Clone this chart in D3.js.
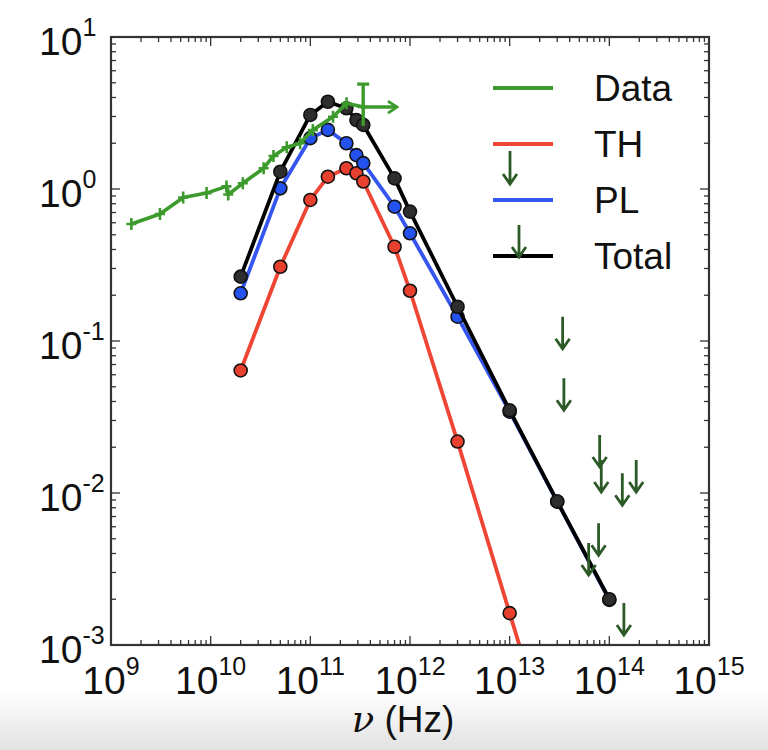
<!DOCTYPE html>
<html><head><meta charset="utf-8">
<script src="https://cdn.jsdelivr.net/npm/d3@7"></script>
<style>body{margin:0;background:#fff} svg{display:block}</style>
</head><body><svg id="c" width="768" height="750"></svg>
<script>
// ---- data ----
const freqModel   = [2e10, 5e10, 1e11, 1.5e11, 2.3e11, 2.9e11, 3.4e11, 7e11, 1e12, 3e12, 1e13, 3e13, 1e14];
const thValues    = [0.064, 0.308, 0.847, 1.205, 1.37, 1.27, 1.12, 0.417, 0.214, 0.0218, 0.00162, 1.5e-4, 1e-5];
const plValues    = [0.206, 1.01, 2.16, 2.45, 2.0, 1.67, 1.48, 0.765, 0.511, 0.1445, 0.0343, 0.00877, 0.00198];
const totalValues = [0.265, 1.30, 3.07, 3.75, 3.40, 2.84, 2.64, 1.175, 0.71, 0.168, 0.035, 0.0088, 0.002];
const dataFreq = [1.6e9, 3.1e9, 5.3e9, 9.1e9, 1.44e10, 1.5e10, 2.1e10, 3.4e10, 4.27e10, 5.8e10, 7.9e10, 1.06e11, 1.69e11, 2.31e11, 3.39e11];
const dataFlux = [0.589, 0.685, 0.88, 0.94, 1.04, 0.92, 1.09, 1.37, 1.65, 1.88, 2.0, 2.44, 2.99, 3.66, 3.46];
const lastErrLow = 2.6, lastErrHigh = 4.9, lastFreqLimit = 7.4e11;
const limitFreq = [3.4e13, 3.5e13, 8.0e13, 8.3e13, 1.35e14, 1.86e14, 7.8e13, 6.2e13, 1.4e14];
const limitFlux = [0.1445, 0.0569, 0.0241, 0.0165, 0.0135, 0.0165, 0.00632, 0.00469, 0.00189];
const xTickExp = [9, 10, 11, 12, 13, 14, 15];
const yTickExp = [1, 0, -1, -2, -3];
const legendLabels = ["Data", "TH", "PL", "Total"];

// ---- layout ----
const svg = d3.select("#c");
const L = 111, R = 709, T = 37, B = 645;
const x = d3.scaleLog().domain([1e9, 1e15]).range([L, R]);
const y = d3.scaleLog().domain([1e-3, 1e1]).range([B, T]);
const cGreen = "#3d9a2c", cArrow = "#2c5a27", cRed = "#ee4534", cBlue = "#3456ee";
const FONT = "'Liberation Sans', Arial, sans-serif";

// background gradient at bottom (photo artifact)
const defs = svg.append("defs");
const g1 = defs.append("linearGradient").attr("id", "bg").attr("x1", 0).attr("x2", 0).attr("y1", 0).attr("y2", 1);
g1.append("stop").attr("offset", 0).attr("stop-color", "#ffffff");
g1.append("stop").attr("offset", 1).attr("stop-color", "#e2e2e2");
svg.append("rect").attr("x", 0).attr("y", 690).attr("width", 768).attr("height", 60).attr("fill", "url(#bg)");

defs.append("clipPath").attr("id", "clip").append("rect")
  .attr("x", L).attr("y", T).attr("width", R - L).attr("height", B - T);

// ---- ticks (inside, all four sides) ----
const ticksG = svg.append("g").attr("stroke", "#333").attr("stroke-width", 1.3);
const isMajor = v => Math.abs(Math.log10(v) - Math.round(Math.log10(v))) < 1e-6;
x.ticks().forEach(v => {
  const len = isMajor(v) ? 9 : 5, px = x(v);
  ticksG.append("line").attr("x1", px).attr("x2", px).attr("y1", B).attr("y2", B - len);
  ticksG.append("line").attr("x1", px).attr("x2", px).attr("y1", T).attr("y2", T + len);
});
y.ticks().forEach(v => {
  const len = isMajor(v) ? 9 : 5, py = y(v);
  ticksG.append("line").attr("y1", py).attr("y2", py).attr("x1", L).attr("x2", L + len);
  ticksG.append("line").attr("y1", py).attr("y2", py).attr("x1", R).attr("x2", R - len);
});

// ---- tick labels ----
const labG = svg.append("g").attr("font-family", FONT).attr("fill", "#111");
xTickExp.forEach(e => {
  const t = labG.append("text").attr("x", x(Math.pow(10, e))).attr("y", 694)
    .attr("text-anchor", "middle").attr("font-size", 39);
  t.append("tspan").text("10");
  t.append("tspan").attr("font-size", 25).attr("dy", -19).text(String(e));
});
yTickExp.forEach(e => {
  const t = labG.append("text").attr("x", 39).attr("y", y(Math.pow(10, e)) + 18)
    .attr("text-anchor", "start").attr("font-size", 39);
  t.append("tspan").text("10");
  t.append("tspan").attr("font-size", 25).attr("dy", -19).text(e < 0 ? "-" + (-e) : String(e));
});
// axis title
const xt = svg.append("text").attr("x", 403).attr("y", 732).attr("text-anchor", "middle")
  .attr("font-family", FONT).attr("font-size", 37).attr("fill", "#111");
xt.append("tspan").attr("font-style", "italic").attr("font-family", "'DejaVu Serif', serif").text("ν");
xt.append("tspan").text(" (Hz)");

// ---- plot content ----
const plot = svg.append("g").attr("clip-path", "url(#clip)");
const line = d3.line().x(d => x(d[0])).y(d => y(d[1]));
function series(vals, color, fill) {
  const pts = freqModel.map((f, i) => [f, vals[i]]);
  plot.append("path").attr("d", line(pts)).attr("fill", "none")
    .attr("stroke", color).attr("stroke-width", 3.8).attr("stroke-linejoin", "round");
  plot.selectAll(null).data(pts).enter().append("circle")
    .attr("cx", d => x(d[0])).attr("cy", d => y(d[1])).attr("r", 6.5)
    .attr("fill", fill).attr("stroke", "#111").attr("stroke-width", 1.6);
}
series(thValues, cRed, "#e8402f");
series(plValues, cBlue, "#2452ee");
series(totalValues, "#000", "#2e2e2e");

// green data
const dpts = dataFreq.map((f, i) => [f, dataFlux[i]]);
plot.append("path").attr("d", line(dpts)).attr("fill", "none")
  .attr("stroke", cGreen).attr("stroke-width", 3.6).attr("stroke-linejoin", "round");
plot.selectAll(null).data(dpts).enter().append("path")
  .attr("d", d => { const px = x(d[0]), py = y(d[1]); return `M${px-5},${py}H${px+5}M${px},${py-6}V${py+6}`; })
  .attr("stroke", cGreen).attr("stroke-width", 2.6);
// error bars on last data point
const lf = dataFreq[dataFreq.length - 1], lv = dataFlux[dataFlux.length - 1];
plot.append("path")
  .attr("d", `M${x(lf)},${y(lastErrLow)}V${y(lastErrHigh)}M${x(lf)-6},${y(lastErrHigh)}H${x(lf)+6}M${x(lf)},${y(lv)}H${x(lastFreqLimit)}`)
  .attr("stroke", cGreen).attr("stroke-width", 3.4).attr("fill", "none");
plot.append("path")
  .attr("d", `M${x(lastFreqLimit)-9},${y(lv)-6}L${x(lastFreqLimit)},${y(lv)}L${x(lastFreqLimit)-9},${y(lv)+6}`)
  .attr("stroke", cGreen).attr("stroke-width", 2.8).attr("fill", "none");

// upper limit arrows
function arrow(g, px, py, len, color) {
  g.append("path").attr("d", `M${px},${py}V${py+len}M${px-7},${py+len-10}L${px},${py+len}L${px+7},${py+len-10}`)
    .attr("stroke", color).attr("stroke-width", 2.8).attr("fill", "none").attr("stroke-linejoin", "miter");
}
limitFreq.forEach((f, i) => arrow(plot, x(f), y(limitFlux[i]), 32, cArrow));

// frame
svg.append("rect").attr("x", L).attr("y", T).attr("width", R - L).attr("height", B - T)
  .attr("fill", "none").attr("stroke", "#333").attr("stroke-width", 2.2);

// ---- legend ----
const lg = svg.append("g").attr("font-family", FONT).attr("font-size", 37).attr("fill", "#111");
const legColors = [cGreen, cRed, cBlue, "#000"];
legendLabels.forEach((lab, i) => {
  const ly = 88 + i * 56;
  lg.append("line").attr("x1", 493).attr("x2", 553).attr("y1", ly).attr("y2", ly)
    .attr("stroke", legColors[i]).attr("stroke-width", 3.8);
  lg.append("text").attr("x", 594).attr("y", ly + 13).text(lab);
});
arrow(lg, 510, 151, 33, cArrow);
arrow(lg, 519, 225, 32, cArrow);
</script></body></html>
